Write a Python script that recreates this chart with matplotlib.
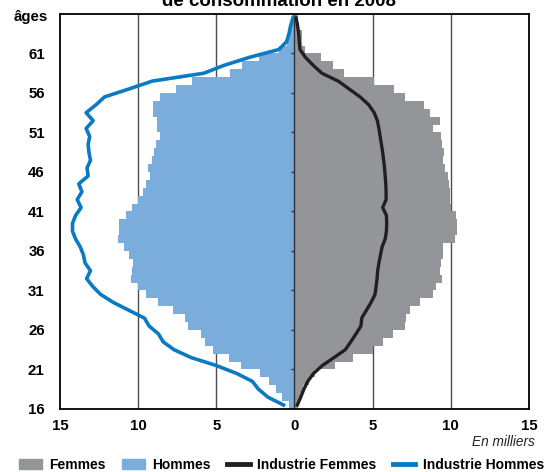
import numpy as np
import matplotlib
matplotlib.use("Agg")
from matplotlib import pyplot as plt
from matplotlib.patches import Patch
from matplotlib.lines import Line2D

plt.rcParams["font.family"] = ["Liberation Sans", "DejaVu Sans"]
plt.rcParams["font.weight"] = "bold"

#+++++ data (milliers de salariés par âge)
ages = np.arange(16, 66)
hommes = [0.34, 0.79, 1.19, 1.64, 2.18, 3.4, 4.2, 5.2, 5.72, 6.0,
          6.79, 7.0, 7.74, 8.73, 9.53, 9.98, 10.43, 10.4, 10.35, 10.6,
          10.88, 11.29, 11.24, 11.2, 10.77, 10.4, 10.0, 9.69, 9.53, 9.27,
          9.36, 9.1, 8.96, 8.86, 8.62, 8.78, 8.78, 9.02, 9.04, 8.63,
          7.56, 6.53, 4.12, 3.33, 2.26, 1.0, 0.5, 0.35, 0.25, 0.15]
femmes = [0.2, 0.35, 0.55, 0.9, 1.3, 2.61, 3.76, 5.0, 5.69, 6.28,
          7.1, 7.14, 7.42, 8.06, 8.89, 9.06, 9.43, 9.28, 9.34, 9.49,
          9.49, 10.24, 10.4, 10.41, 10.35, 9.98, 9.96, 9.96, 9.87, 9.81,
          9.64, 9.53, 9.58, 9.45, 9.36, 8.89, 9.28, 8.68, 8.27, 7.1,
          6.39, 5.09, 3.17, 2.44, 1.7, 0.7, 0.45, 0.45, 0.3, 0.2]
industrie_hommes = [0.7, 1.7, 2.3, 2.7, 3.7, 5.0, 6.6, 7.7, 8.4, 8.7,
                    9.3, 9.6, 10.6, 11.6, 12.4, 12.9, 13.3, 13.05, 13.4, 13.5,
                    13.7, 14.0, 14.2, 14.2, 14.0, 13.65, 13.9, 13.6, 13.8, 13.2,
                    13.27, 13.05, 13.15, 13.2, 13.1, 13.33, 12.88, 13.33, 12.7, 12.15,
                    10.6, 9.1, 5.8, 4.5, 2.9, 1.0, 0.5, 0.35, 0.25, 0.1]
industrie_femmes = [0.18, 0.4, 0.6, 0.85, 1.22, 1.78, 2.52, 3.25, 3.6, 3.93,
                    4.25, 4.3, 4.6, 4.9, 5.15, 5.22, 5.28, 5.32, 5.4, 5.5,
                    5.6, 5.8, 5.88, 5.9, 5.88, 5.64, 5.86, 5.86, 5.84, 5.8,
                    5.76, 5.7, 5.64, 5.56, 5.48, 5.4, 5.3, 5.1, 4.75, 4.2,
                    3.5, 2.8, 1.75, 1.2, 0.7, 0.35, 0.3, 0.27, 0.2, 0.1]
xticks = [-15, -10, -5, 0, 5, 10, 15]
yticks = [16, 21, 26, 31, 36, 41, 46, 51, 56, 61]
#-----

c_gray = "#939598"
c_blue = "#7aacdc"
c_line_blue = "#0a7bc2"
c_black = "#231f20"

fig = plt.figure(figsize=(5.52, 4.72), dpi=100)
ax = fig.add_axes([0.1087, 0.1335, 0.8496, 0.8369])

ax.barh(ages, -np.array(hommes), height=1, align="edge", color=c_blue, zorder=2)
ax.barh(ages, femmes, height=1, align="edge", color=c_gray, zorder=2)
ax.plot(-np.array(industrie_hommes), ages + 0.5, color=c_line_blue, lw=2.6, zorder=4)
ax.plot(industrie_femmes, ages + 0.5, color=c_black, lw=2.4, zorder=4)

for x in xticks[1:-1]:
    if x != 0:
        ax.axvline(x, color="#4d4d4d", lw=1, zorder=1)
ax.axvline(0, color="#333333", lw=1, zorder=3)
ax.hlines(yticks, -0.25, 0, color="#333333", lw=1, zorder=3)

ax.set_xlim(-15, 15)
ax.set_ylim(16, 66)
ax.set_xticks(xticks)
ax.set_xticklabels([str(abs(v)) for v in xticks], fontsize=10.8, fontweight="bold")
ax.set_yticks(yticks)
ax.set_yticklabels([str(v) for v in yticks], fontsize=10.8, fontweight="bold")
ax.tick_params(axis="x", length=0, pad=7)
ax.tick_params(axis="y", length=0, pad=11)
for s in ax.spines.values():
    s.set_linewidth(1.3)
    s.set_color("black")
    s.set_zorder(5)

fig.text(0.087, 0.964, "âges", ha="right", va="center", fontsize=10.8, fontweight="bold")
fig.text(0.969, 0.0636, "En milliers", ha="right", va="center", fontsize=9.8,
         fontstyle="italic", fontweight="normal", color="#222222")
fig.text(0.505, 0.987, "de consommation en 2008", ha="center", va="baseline",
         fontsize=13.5, fontweight="bold")

handles = [Patch(color=c_gray), Patch(color=c_blue),
           Line2D([], [], color=c_black, lw=3.5), Line2D([], [], color=c_line_blue, lw=3.5)]
labels = ["Femmes", "Hommes", "Industrie Femmes", "Industrie Hommes"]
fig.legend(handles, labels, loc="center", bbox_to_anchor=(0.51, 0.015), ncol=4,
           frameon=False, handlelength=1.65, handleheight=0.7,
           handletextpad=0.55, columnspacing=1.15, borderaxespad=0, borderpad=0,
           prop={"weight": "bold", "size": 10})

fig.savefig("out.png", dpi=100)
